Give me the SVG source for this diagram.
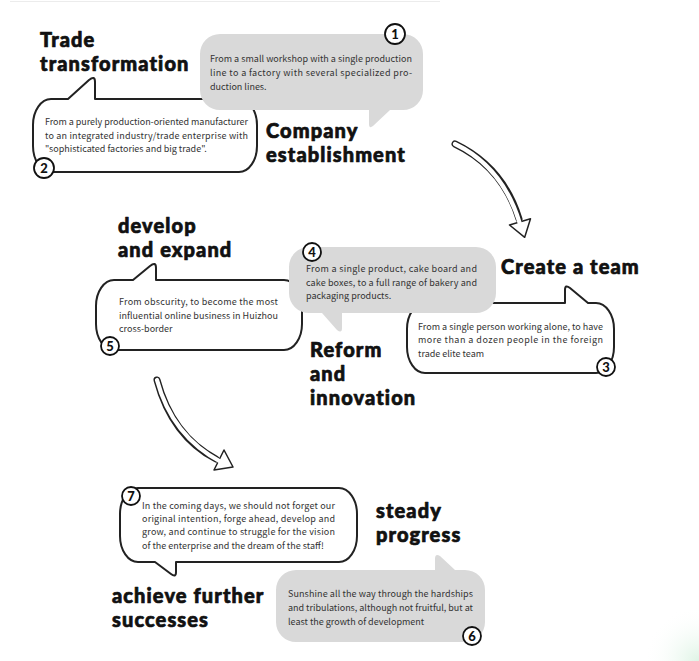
<svg xmlns="http://www.w3.org/2000/svg" width="699" height="661" viewBox="0 0 699 661">
<defs>
<radialGradient id="glow" cx="699" cy="661" r="55" gradientUnits="userSpaceOnUse">
<stop offset="0" stop-color="#c8ecd3" stop-opacity="0.6"/>
<stop offset="1" stop-color="#ffffff" stop-opacity="0"/>
</radialGradient>
<style>
.title{font-family:Lato,"Liberation Sans",sans-serif;font-weight:900;font-size:20px;fill:#111;stroke:#111;stroke-width:0.7;stroke-linejoin:round;letter-spacing:1.1px}
.body{font-family:"Noto Sans CJK SC","Noto Sans",sans-serif;font-size:9px;fill:#333}
.wb{fill:#fff;stroke:#222;stroke-width:2;stroke-linejoin:round}
.gb{fill:#d9d9d9;stroke:none}
.num circle{fill:#fff;stroke:#111;stroke-width:1.8}
.num text{font-family:Lato,"Liberation Sans",sans-serif;font-weight:900;font-size:13px;fill:#111;text-anchor:middle}
.aout{fill:none;stroke:#222;stroke-width:7;stroke-linecap:round}
.ain{fill:none;stroke:#fff;stroke-width:4.2;stroke-linecap:round}
.ahead{fill:#fff;stroke:#222;stroke-width:1.5;stroke-linejoin:round}
</style>
</defs>
<rect width="699" height="661" fill="#fff"/>
<line x1="10" y1="1.5" x2="440" y2="1.5" stroke="#ececec" stroke-width="1"/>
<rect x="630" y="590" width="69" height="71" fill="url(#glow)"/>

<g id="node2">
<path class="wb" d="M 51,99 H 68 L 89,80 Q 95,75 95,82 V 99 H 239 C 248.9,99 257,110.7 257,125 V 146 C 257,160.3 248.9,172 239,172 H 51 C 41.1,172 33,160.3 33,146 V 125 C 33,110.7 41.1,99 51,99 Z"/>
<text class="body" x="45" y="125" textLength="203" lengthAdjust="spacing">From a purely production-oriented manufacturer</text>
<text class="body" x="45" y="139" textLength="203" lengthAdjust="spacing">to an integrated industry/trade enterprise with</text>
<text class="body" x="45" y="152">"sophisticated factories and big trade".</text>
<g class="num"><circle cx="44" cy="168" r="10"/><text x="44" y="172.5">2</text></g>
<text class="title" x="40" y="47">Trade</text>
<text class="title" x="40" y="71">transformation</text>
</g>

<g id="node1">
<path class="gb" d="M 220,34 H 403 A 20 20 0 0 1 423,54 V 90 A 20 20 0 0 1 403,110 H 390 L 373,126 Q 369,129 369,124 V 110 H 220 A 20 20 0 0 1 200,90 V 54 A 20 20 0 0 1 220,34 Z"/>
<text class="body" x="210" y="62" textLength="202" lengthAdjust="spacing">From a small workshop with a single production</text>
<text class="body" x="210" y="76" textLength="202" lengthAdjust="spacing">line to a factory with several specialized pro-</text>
<text class="body" x="210" y="90">duction lines.</text>
<g class="num"><circle cx="395" cy="34" r="10"/><text x="395" y="38.5">1</text></g>
<text class="title" x="266" y="138">Company</text>
<text class="title" x="266" y="162">establishment</text>
</g>

<g id="node3">
<path class="wb" d="M 425,303 H 565 V 290 Q 565,284 570,288 L 588,303 H 596 C 605.9,303 614,314.7 614,329 V 347 C 614,361.3 605.9,373 596,373 H 425 C 415.1,373 407,361.3 407,347 V 329 C 407,314.7 415.1,303 425,303 Z"/>
<text class="body" x="418" y="330" textLength="185" lengthAdjust="spacing">From a single person working alone, to have</text>
<text class="body" x="418" y="343" textLength="185" lengthAdjust="spacing">more than a dozen people in the foreign</text>
<text class="body" x="418" y="357">trade elite team</text>
<g class="num"><circle cx="606" cy="367" r="9"/><text x="606" y="371.5">3</text></g>
<text class="title" x="501" y="274">Create a team</text>
</g>

<g id="node5">
<path class="wb" d="M 114,280 H 133 L 150,266 Q 156,261 156,268 V 280 H 284 C 293.9,280 302,291.7 302,306 V 324 C 302,338.3 293.9,350 284,350 H 114 C 104.1,350 96,338.3 96,324 V 306 C 96,291.7 104.1,280 114,280 Z"/>
<text class="body" x="119" y="305" textLength="159" lengthAdjust="spacing">From obscurity, to become the most</text>
<text class="body" x="119" y="319" textLength="159" lengthAdjust="spacing">influential online business in Huizhou</text>
<text class="body" x="119" y="332">cross-border</text>
<g class="num"><circle cx="110" cy="346" r="9"/><text x="110" y="350.5">5</text></g>
<text class="title" x="118" y="233">develop</text>
<text class="title" x="118" y="257">and expand</text>
</g>

<g id="node4">
<path class="gb" d="M 309,247 H 476 A 20 20 0 0 1 496,267 V 293 A 20 20 0 0 1 476,313 H 342 V 328 Q 342,334 337,330 L 322,313 H 309 A 20 20 0 0 1 289,293 V 267 A 20 20 0 0 1 309,247 Z"/>
<text class="body" x="306" y="272" textLength="171" lengthAdjust="spacing">From a single product, cake board and</text>
<text class="body" x="306" y="286" textLength="171" lengthAdjust="spacing">cake boxes, to a full range of bakery and</text>
<text class="body" x="306" y="299">packaging products.</text>
<g class="num"><circle cx="312" cy="252" r="9"/><text x="312" y="256.5">4</text></g>
<text class="title" x="310" y="357">Reform</text>
<text class="title" x="310" y="381">and</text>
<text class="title" x="310" y="405">innovation</text>
</g>

<g id="node7">
<path class="wb" d="M 138,488 H 339 C 348.9,488 357,499.7 357,514 V 536 C 357,550.3 348.9,562 339,562 H 176 V 572 Q 176,578 171,574 L 155,562 H 138 C 128.1,562 120,550.3 120,536 V 514 C 120,499.7 128.1,488 138,488 Z"/>
<text class="body" x="142" y="509" textLength="193" lengthAdjust="spacing">In the coming days, we should not forget our</text>
<text class="body" x="142" y="522" textLength="193" lengthAdjust="spacing">original intention, forge ahead, develop and</text>
<text class="body" x="142" y="535" textLength="193" lengthAdjust="spacing">grow, and continue to struggle for the vision</text>
<text class="body" x="142" y="549">of the enterprise and the dream of the staff!</text>
<g class="num"><circle cx="131" cy="496" r="9"/><text x="131" y="500.5">7</text></g>
<text class="title" x="112" y="603">achieve further</text>
<text class="title" x="112" y="627">successes</text>
</g>

<g id="node6">
<path class="gb" d="M 296,570 H 435 V 559 Q 435,553 440,556 L 455,570 H 465 A 20 20 0 0 1 485,590 V 622 A 20 20 0 0 1 465,642 H 296 A 20 20 0 0 1 276,622 V 590 A 20 20 0 0 1 296,570 Z"/>
<text class="body" x="288" y="597" textLength="185" lengthAdjust="spacing">Sunshine all the way through the hardships</text>
<text class="body" x="288" y="611" textLength="185" lengthAdjust="spacing">and tribulations, although not fruitful, but at</text>
<text class="body" x="288" y="625">least the growth of development</text>
<g class="num"><circle cx="472" cy="636" r="9"/><text x="472" y="640.5">6</text></g>
<text class="title" x="376" y="518">steady</text>
<text class="title" x="376" y="542">progress</text>
</g>

<g id="connectors">
<g id="arrow1">
<path class="aout" d="M 455,144 Q 503,167 519,219"/>
<polygon class="ahead" points="509.5,225 530.5,218.8 524.7,237.3"/>
<path class="ain" d="M 455,144 Q 503,167 520,224"/>
</g>
<g id="arrow2">
<path class="aout" d="M 157,380 Q 172,436 216,459"/>
<polygon class="ahead" points="214,470 224,450 233,467"/>
<path class="ain" d="M 157,380 Q 172,436 221,462"/>
</g>
</g>
</svg>
